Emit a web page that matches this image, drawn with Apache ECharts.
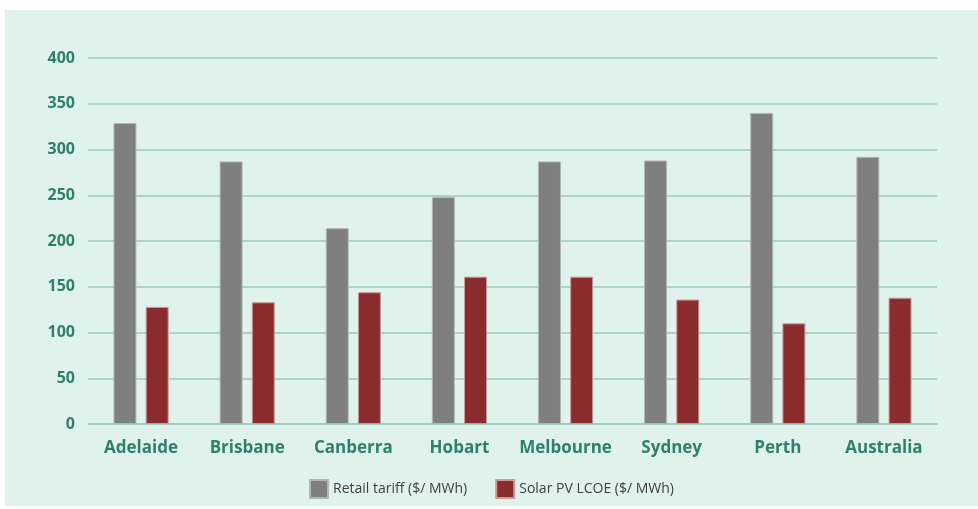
<!DOCTYPE html>
<html>
<head>
<meta charset="utf-8">
<script src="https://cdn.jsdelivr.net/npm/echarts@6/dist/echarts.min.js"></script>
<style>
  html, body { margin: 0; padding: 0; background: #ffffff; }
  #chart { position: absolute; left: 5px; top: 10px; width: 973px; height: 496px; background: #dff2ec; }
</style>
</head>
<body>
<div id="chart"></div>
<script>
// data
var cities = ['Adelaide', 'Brisbane', 'Canberra', 'Hobart', 'Melbourne', 'Sydney', 'Perth', 'Australia'];
var retailTariff = [329, 287, 214, 248, 287, 288, 340, 292];
var solarLcoe = [128, 133, 144, 161, 161, 136, 110, 138];
var seriesNames = ['Retail tariff ($/ MWh)', 'Solar PV LCOE ($/ MWh)'];

var teal = '#2f7f6d';
var chart = echarts.init(document.getElementById('chart'));
chart.setOption({
  animation: false,
  backgroundColor: 'transparent',
  textStyle: { fontFamily: 'Open Sans' },
  grid: { left: 83, right: 41, top: 48, bottom: 82 },
  legend: {
    bottom: 2,
    left: 'center',
    itemWidth: 18,
    itemHeight: 18,
    itemGap: 28,
    icon: 'rect',
    textStyle: { fontSize: 14, color: '#404040', fontFamily: 'Open Sans' },
    data: seriesNames
  },
  xAxis: {
    type: 'category',
    data: cities,
    axisLine: { show: true, lineStyle: { color: '#9ccabd', width: 1.5 } },
    axisTick: { show: false },
    axisLabel: { color: teal, fontSize: 17, fontWeight: 'bold', margin: 16, interval: 0 }
  },
  yAxis: {
    type: 'value',
    min: 0,
    max: 400,
    interval: 50,
    axisLine: { show: false },
    axisTick: { show: false },
    axisLabel: { color: teal, fontSize: 16, fontWeight: 'bold', margin: 13 },
    splitLine: { lineStyle: { color: '#9ccabd', width: 1.5 } }
  },
  series: [
    {
      name: seriesNames[0],
      type: 'bar',
      data: retailTariff,
      barGap: '40%',
      barCategoryGap: '48%',
      itemStyle: { color: '#7f7f7f', borderColor: '#b0b8b5', borderWidth: 1 }
    },
    {
      name: seriesNames[1],
      type: 'bar',
      data: solarLcoe,
      itemStyle: { color: '#8a2b2e', borderColor: '#c99a9b', borderWidth: 1 }
    }
  ]
});
</script>
</body>
</html>
